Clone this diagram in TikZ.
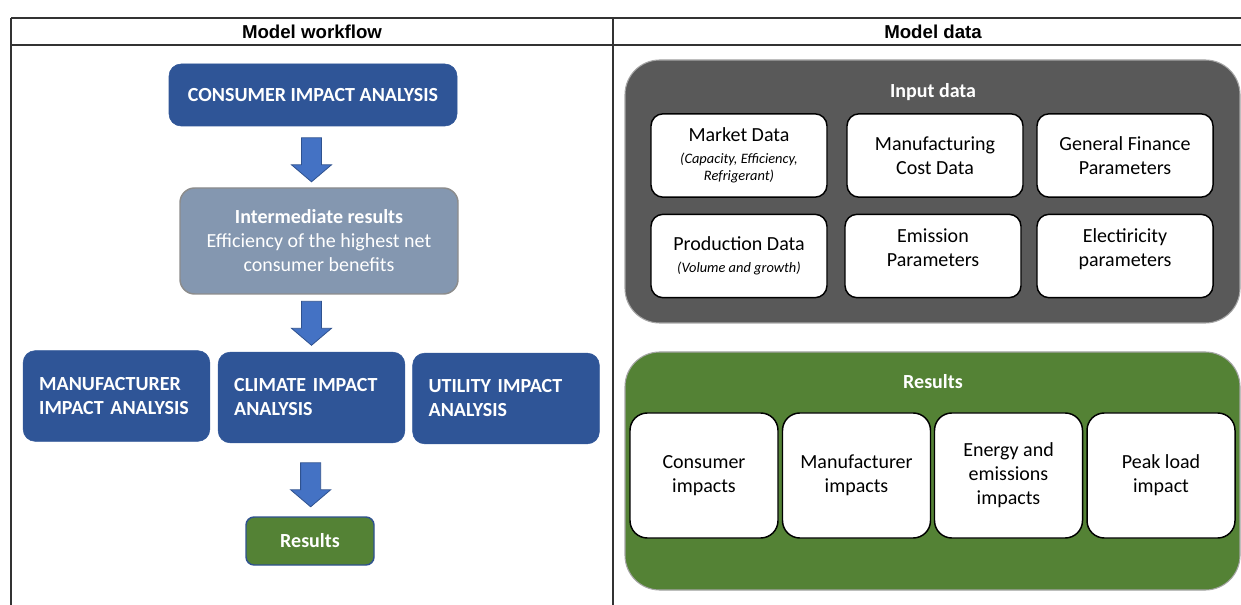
\documentclass[tikz,border=0pt]{standalone}
\usepackage{fontspec}
\setmainfont{Carlito}
\newfontfamily\headfont{Liberation Sans}
\usetikzlibrary{positioning, calc}

\definecolor{boxblue}{HTML}{2F5597}
\definecolor{arrowblue}{HTML}{4472C4}
\definecolor{arrowedge}{HTML}{2F528F}
\definecolor{midgrey}{HTML}{8497B0}
\definecolor{darkgrey}{HTML}{595959}
\definecolor{resgreen}{HTML}{548235}

\newcommand{\smallit}{\fontsize{10.8}{13}\selectfont\itshape}
\newcommand{\headtext}{\headfont\fontsize{14}{17}\selectfont\bfseries}

\tikzset{
	flowbox/.style={rounded corners=9pt, fill=boxblue, draw=boxblue, text=white, font=\fontsize{15}{18}\selectfont\bfseries},
	sidebox/.style={flowbox, minimum height=68pt, text width=116pt, align=left, inner xsep=12pt},
	blockarrow/.style={fill=arrowblue, draw=arrowedge, line width=0.6pt, line join=miter},
	groupbox/.style={rounded corners=26pt, draw=black!35, line width=0.8pt, minimum width=461.25pt},
	databox/.style={rounded corners=9pt, fill=white, draw=black, line width=1.1pt, align=center, minimum width=132pt, minimum height=62.5pt},
	impactbox/.style={rounded corners=13pt, fill=white, draw=black, line width=1.1pt, align=center, minimum width=111pt, minimum height=93.75pt},
	grouptitle/.style={text=white, font=\fontsize{15}{18}\selectfont\bfseries}
}

\begin{document}
\begin{tikzpicture}[x=0.75pt, y=-0.75pt, font=\fontsize{15}{18}\selectfont]
	\useasboundingbox (0,0) rectangle (1241,605);

	% table frame
	\draw	[line width=1pt, black!80]	(11,18) -- (1241,18);
	\draw	[line width=1pt, black!80]	(11,45) -- (1241,45);
	\draw	[line width=1pt, black!80]	(11,18) -- (11,605);
	\draw	[line width=1pt, black!80]	(613,18) -- (613,605);
	\node	(hwork)	at	(312,32)	{\headtext Model workflow};
	\node	(hdata)	at	(933,32)	{\headtext Model data};

	% workflow
	\node	[flowbox, minimum width=216pt, minimum height=46.5pt]	(consumer)	at	(313,95)	{CONSUMER IMPACT ANALYSIS};
	\node	[rounded corners=11pt, fill=midgrey, draw=black!45, line width=1.1pt, text=white, align=center,
			minimum width=208.5pt, minimum height=79.5pt]	(inter)	at	(319,241)
			{\textbf{Intermediate results}\\Efficiency of the highest net\\consumer benefits};
	\node	[sidebox]	(manuf)		at	(116.5,396)		{MANUFACTURER\\IMPACT ANALYSIS};
	\node	[sidebox]	(climate)	at	(311.5,397.5)	{CLIMATE IMPACT\\ANALYSIS};
	\node	[sidebox]	(utility)	at	(506,398.5)		{UTILITY IMPACT\\ANALYSIS};
	\node	[flowbox, fill=resgreen, draw=arrowedge, line width=1.1pt, rounded corners=6pt,
			minimum width=96pt, minimum height=36pt]	(results)	at	(310,541)	{Results};

	% block arrows
	\coordinate	(arr1)	at	(climate.north |- {$(consumer.south)!0.55!(inter.north)$});
	\coordinate	(arr2)	at	(climate.north |- {$(inter.south)!0.5!(climate.north)$});
	\coordinate	(arr3)	at	($(climate.south)!0.57!(results.north)$);
	\foreach \a in {arr1, arr2, arr3}
		\draw	[blockarrow]	(\a) ++(-10,-22) -- ++(20,0) -- ++(0,27) -- ++(10,0) -- ++(-20,17) -- ++(-20,-17) -- ++(10,0) -- cycle;

	% input data
	\node	[groupbox, fill=darkgrey, minimum height=197.25pt]	(input)	at	(932.5,191.5)	{};
	\node	[grouptitle]	(inputtitle)	at	(933,92)	{Input data};
	\node	[databox]	(market)	at	(739,155.5)	{Market Data\\[-1.5pt]{\smallit (Capacity, Efficiency,}\\[-5pt]{\smallit Refrigerant)}};
	\node	[databox]	(mcost)		at	(935,155.5)		{Manufacturing\\Cost Data};
	\node	[databox]	(finance)	at	(1125,155.5)	{General Finance\\Parameters};
	\node	[databox]	(prod)		at	(739,256)		{Production Data\\[-1.5pt]{\smallit (Volume and growth)}};
	\node	[databox, text depth=12pt]	(emis)		at	(933,256)		{Emission\\Parameters};
	\node	[databox, text depth=12pt]	(elec)		at	(1125,256)		{Electiricity\\parameters};

	% results
	\node	[groupbox, fill=resgreen, minimum height=178.5pt]	(output)	at	(932.5,471)	{};
	\node	[grouptitle]	(outputtitle)	at	(933,382)	{Results};
	\node	[impactbox]	(cons)	at	(704,475.5)		{Consumer\\impacts};
	\node	[impactbox]	(manu)	at	(856.5,475.5)	{Manufacturer\\impacts};
	\node	[impactbox]	(ener)	at	(1008.5,475.5)	{Energy and\\emissions\\impacts};
	\node	[impactbox]	(peak)	at	(1161,475.5)	{Peak load\\impact};
\end{tikzpicture}
\end{document}
